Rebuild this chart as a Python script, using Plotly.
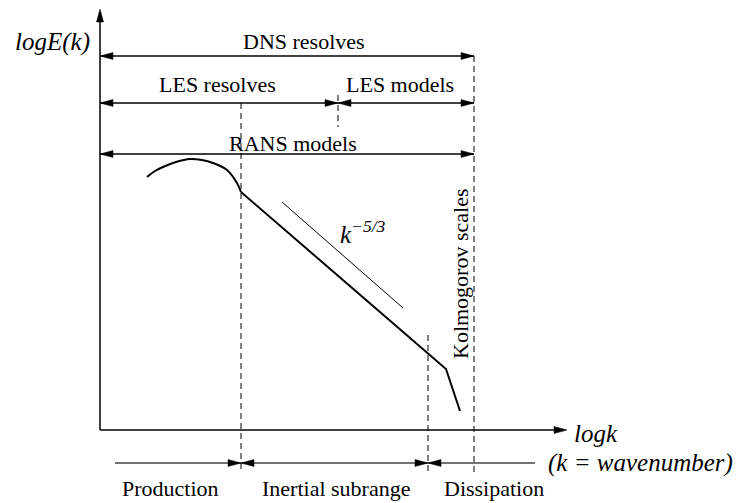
import plotly.graph_objects as go

# ---------------- schematic data (logk horizontal, logE vertical, origin at axis corner) ----
AXIS_K_END = 467
AXIS_E_END = 421

arc_logk = [47, 55, 63, 76, 90, 102, 113, 127, 137, 141]
arc_logE = [253, 259, 263, 268, 271, 270, 267, 260, 247, 238]
inertial_logk = [141, 346, 360]
inertial_logE = [238, 61, 19]
slope_logk = [182, 303]
slope_logE = [228, 122]

k_production_end = 141
k_les_filter = 238
k_dissipation_start = 328
k_kolmogorov = 374

span_labels = ["DNS resolves", "LES resolves", "LES models", "RANS models"]
span_start = [0, 0, k_les_filter, 0]
span_end = [k_kolmogorov, k_les_filter, k_kolmogorov, k_kolmogorov]
span_level = [374, 327, 327, 276]

phase_labels = ["Production", "Inertial subrange", "Dissipation"]
phase_bounds = [15, k_production_end, k_dissipation_start, 435]
phase_level = -33

# ---------------- layout helpers ----------------
X_MIN, X_MAX = -100, 640
Y_MIN, Y_MAX = -73, 430
SERIF = "Liberation Serif"
BLACK = "#000000"
HEAD_LEN, HEAD_HALF = 13, 3.5

shapes = []


def seg(x0, y0, x1, y1, width=1.3, dash=None, color=BLACK):
    line = dict(color=color, width=width)
    if dash:
        line["dash"] = dash
    shapes.append(dict(type="line", xref="x", yref="y", x0=x0, y0=y0, x1=x1, y1=y1,
                       line=line, layer="above"))


def head(tx, ty, direction):
    if direction == "right":
        pts = [(tx, ty), (tx - HEAD_LEN, ty + HEAD_HALF), (tx - HEAD_LEN, ty - HEAD_HALF)]
    elif direction == "left":
        pts = [(tx, ty), (tx + HEAD_LEN, ty + HEAD_HALF), (tx + HEAD_LEN, ty - HEAD_HALF)]
    else:
        pts = [(tx, ty), (tx - HEAD_HALF, ty - HEAD_LEN), (tx + HEAD_HALF, ty - HEAD_LEN)]
    path = "M {} {} L {} {} L {} {} Z".format(*[v for p in pts for v in p])
    shapes.append(dict(type="path", xref="x", yref="y", path=path,
                       fillcolor=BLACK, line=dict(color=BLACK, width=0.5), layer="above"))


# axes
seg(0, 0, 0, AXIS_E_END - 4, width=1.5)
head(0, AXIS_E_END, "up")
seg(0, 0, AXIS_K_END - 4, 0, width=1.5)
head(AXIS_K_END, 0, "right")

# spans (double-headed arrows)
for s, e, lvl in zip(span_start, span_end, span_level):
    seg(s, lvl, e, lvl)
    head(s, lvl, "left")
    head(e, lvl, "right")

# phase arrows on the bottom
seg(phase_bounds[0], phase_level, phase_bounds[-1], phase_level, color="#444444")
for b in phase_bounds[1:-1]:
    head(b, phase_level, "right")
    head(b, phase_level, "left")

# dashed guides
DASH = "6px,4px"
seg(k_kolmogorov, span_level[0], k_kolmogorov, -43, width=1, dash=DASH)
seg(k_production_end, span_level[1], k_production_end, -40, width=1, dash=DASH)
seg(k_les_filter, 335, k_les_filter, 303, width=1, dash=DASH)
seg(k_dissipation_start, 95, k_dissipation_start, -45, width=1, dash=DASH)

fig = go.Figure()
fig.add_trace(go.Scatter(x=arc_logk, y=arc_logE, mode="lines",
                         line=dict(color=BLACK, width=2, shape="spline"), hoverinfo="skip"))
fig.add_trace(go.Scatter(x=inertial_logk, y=inertial_logE, mode="lines",
                         line=dict(color=BLACK, width=2), hoverinfo="skip"))
fig.add_trace(go.Scatter(x=slope_logk, y=slope_logE, mode="lines",
                         line=dict(color=BLACK, width=1), hoverinfo="skip"))

annotations = []


def label(x, y, text, size=22, angle=0, style="normal"):
    annotations.append(dict(x=x, y=y, xref="x", yref="y", text=text, showarrow=False,
                            xanchor="center", yanchor="middle", textangle=angle,
                            font=dict(family=SERIF, size=size, color=BLACK, style=style)))


span_label_pos = [(204, 389), (117, 346), (300, 346), (193, 287)]
for t, (x, y) in zip(span_labels, span_label_pos):
    label(x, y, t)

phase_label_pos = [(70, -58), (236, -58), (394, -58)]
for t, (x, y) in zip(phase_labels, phase_label_pos):
    label(x, y, t)

label(-48, 388, "logE(k)", size=25, style="italic")
label(263, 198, "k<sup>−5/3</sup>", size=25, style="italic")
label(360, 156, "Kolmogorov scales", angle=-90)
label(496, -3, "logk", size=25, style="italic")
label(540, -33, "(k = wavenumber)", size=25, style="italic")

fig.update_layout(
    width=740, height=503, autosize=False,
    margin=dict(l=0, r=0, t=0, b=0),
    paper_bgcolor="white", plot_bgcolor="white",
    showlegend=False,
    shapes=shapes, annotations=annotations,
    xaxis=dict(range=[X_MIN, X_MAX], visible=False, fixedrange=True),
    yaxis=dict(range=[Y_MIN, Y_MAX], visible=False, fixedrange=True),
)

fig.write_html("out.html", config={"displayModeBar": False},
               post_script="document.body.style.margin='0px';document.body.style.overflow='hidden';")
